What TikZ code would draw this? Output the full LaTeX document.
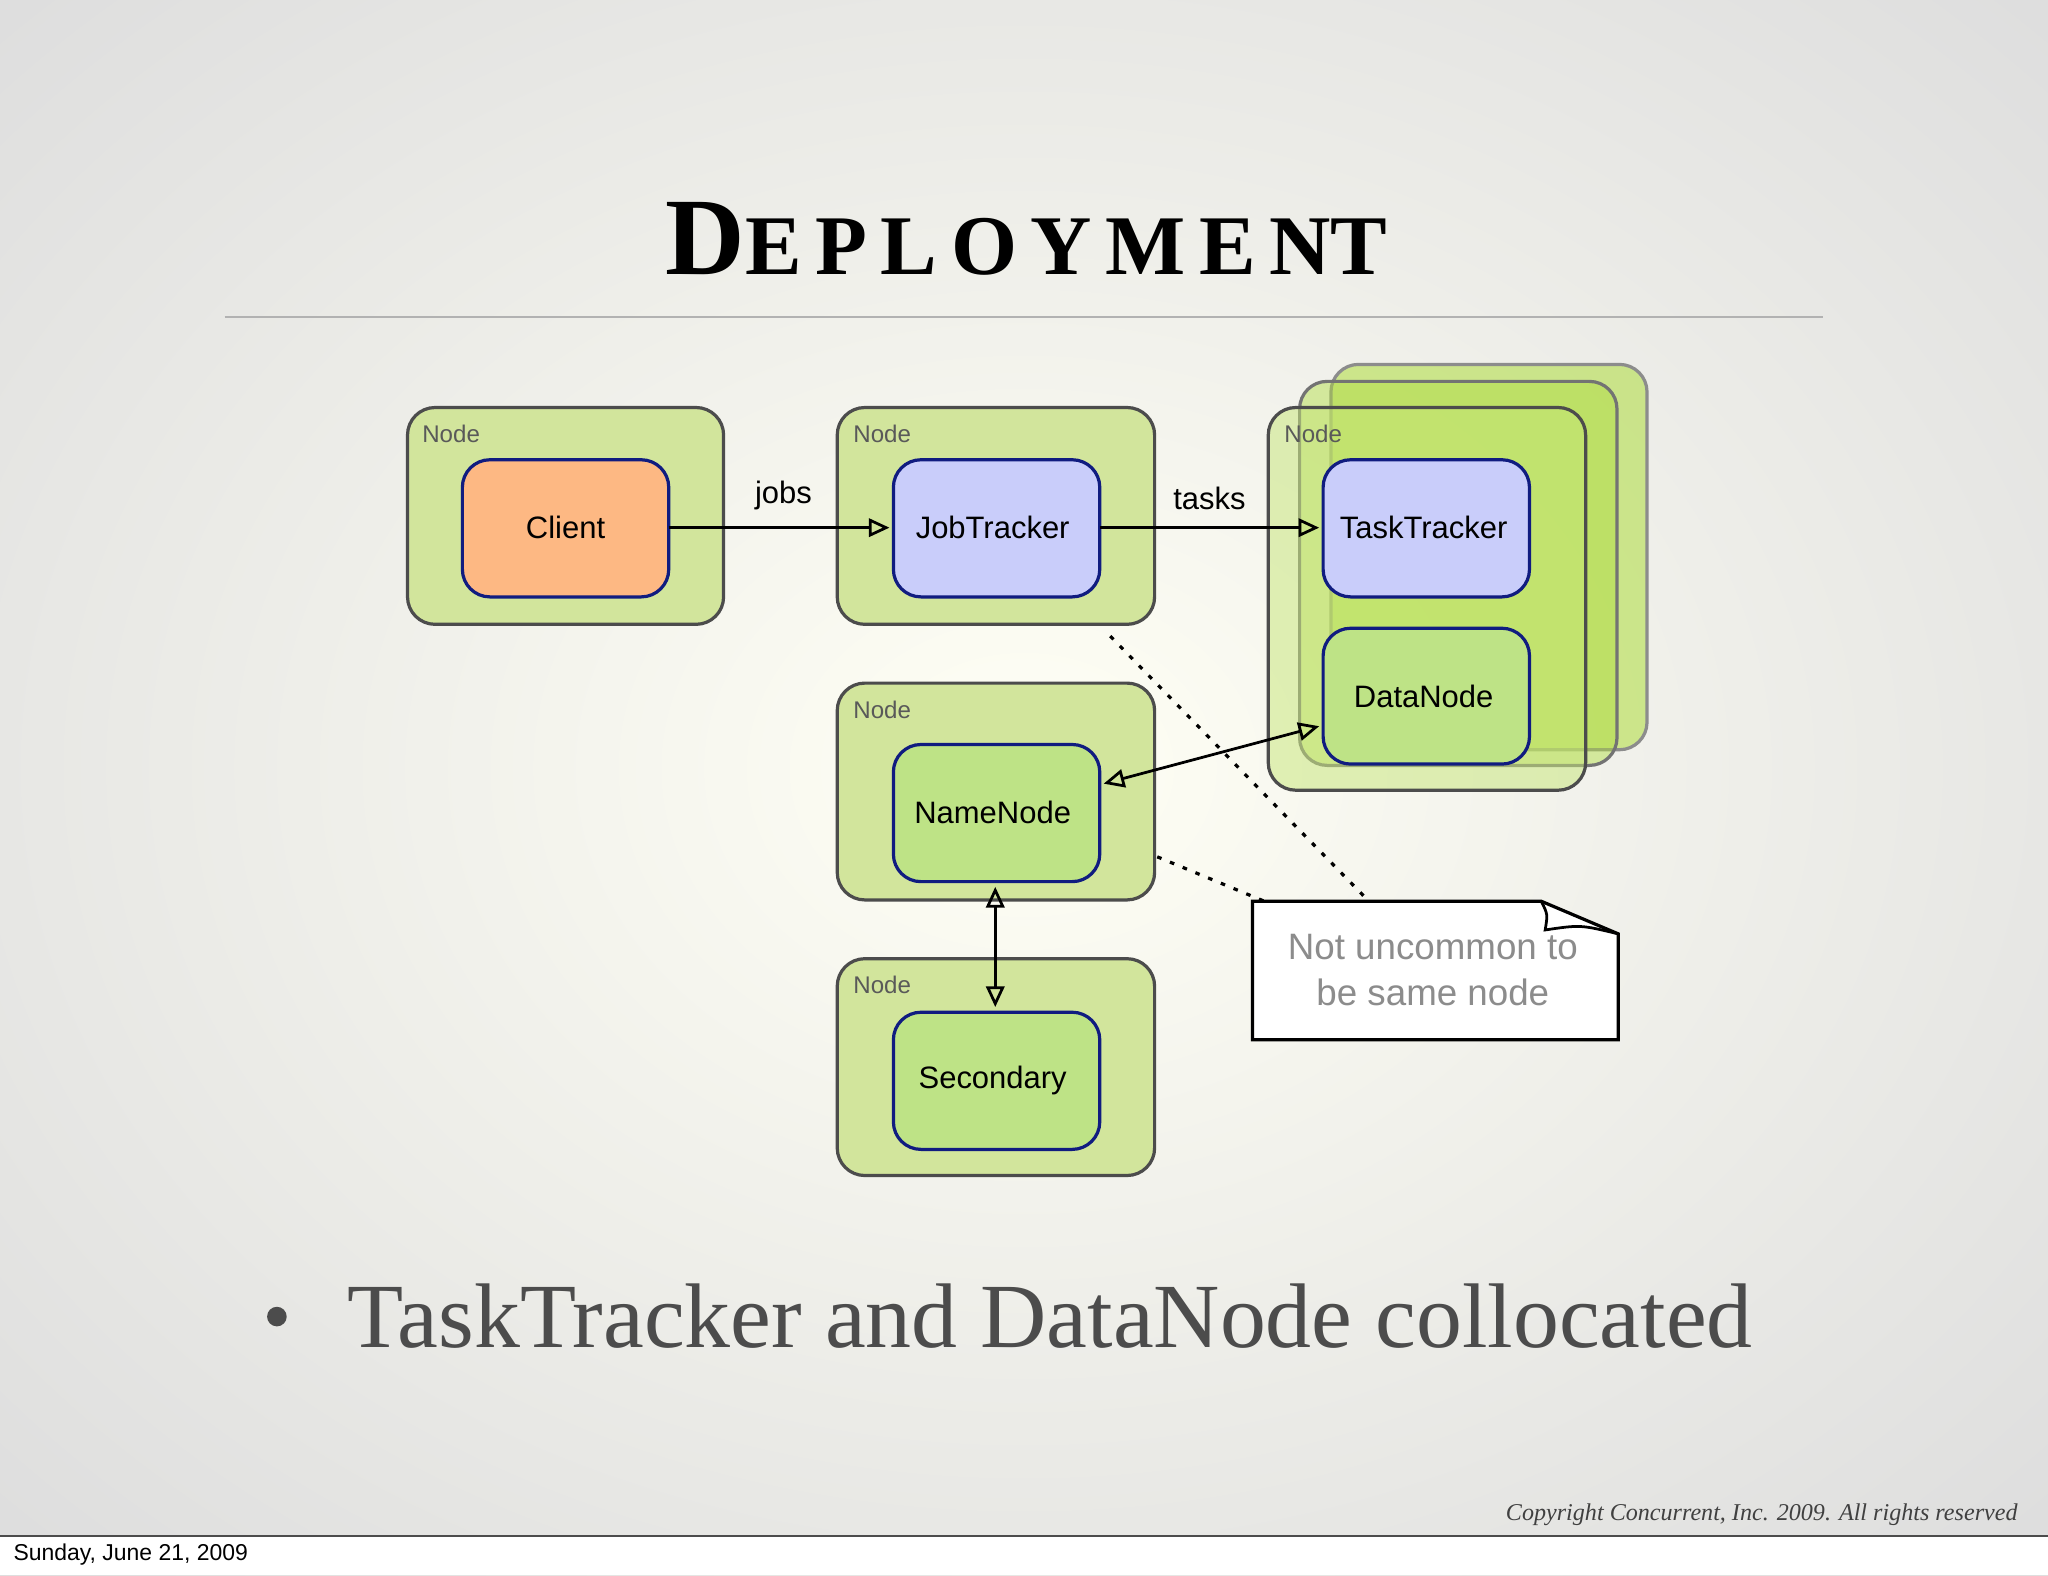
\documentclass[tikz,border=0pt]{standalone}
\usepackage{fontspec}
\setmainfont{Liberation Serif}
\setsansfont{Liberation Sans}
\usetikzlibrary{arrows.meta}
\definecolor{outerg}{HTML}{D2E59C}
\definecolor{innerg}{HTML}{BEE386}
\definecolor{lav}{HTML}{C9CDFA}
\definecolor{orng}{HTML}{FDB883}
\definecolor{navy}{HTML}{101C80}
\definecolor{lime}{HTML}{AEDC3C}
\tikzset{
  outerbox/.style={draw=black!70, line width=1.4pt, rounded corners=12pt},
  innerbox/.style={draw=navy, line width=1.4pt, rounded corners=12pt},
  lbl/.style={font=\sffamily\fontsize{13.5}{16}\selectfont, text=black},
  nodelbl/.style={font=\sffamily\fontsize{10.5}{12}\selectfont, text=black!65, anchor=north west, inner sep=0pt},
  arr/.style={line width=1.2pt, -{Triangle[open,length=9pt,width=8pt]}},
  darr/.style={line width=1.2pt, {Triangle[open,length=9pt,width=8pt]}-{Triangle[open,length=9pt,width=8pt]}},
  dots/.style={line width=1.4pt, dash pattern=on 2pt off 4pt}
}
\begin{document}
\begin{tikzpicture}[x=0.02cm,y=-0.02cm]
\useasboundingbox (0,0) rectangle (1568,1206);
\fill[inner color=white!96!yellow, outer color=black!13] (-300,-250) rectangle (1868,1426);
\fill[white] (0,1176) rectangle (1568,1206);
\draw[black!70, line width=0.6pt] (0,1176) -- (1568,1176);
\node[anchor=west, font=\sffamily\fontsize{10}{12}\selectfont, inner sep=0pt] (date) at (10,1190) {Sunday, June 21, 2009};
% title
\node[font=\bfseries, inner sep=0pt] (title) at (786,183) {\fontsize{48}{50}\selectfont D\fontsize{37}{40}\selectfont\addfontfeatures{LetterSpace=16}EPLOYMEN\addfontfeatures{LetterSpace=0}T};
\draw[black!30, line width=0.8pt] (172,243) -- (1396,243);
% client
\draw[outerbox, fill=outerg] (312,312) rectangle (554,478);
\node[nodelbl] (n1) at (323,325) {Node};
\draw[innerbox, fill=orng] (354,352) rectangle (512,457);
\node[lbl] (client) at (433,404) {Client};
\coordinate (clientE) at (512,404);
% jobtracker
\draw[outerbox, fill=outerg] (641,312) rectangle (884,478);
\node[nodelbl] (n2) at (653,325) {Node};
\draw[innerbox, fill=lav] (684,352) rectangle (842,457);
\node[lbl] (jt) at (760,404) {JobTracker};
\coordinate (jtW) at (681,404);
\coordinate (jtE) at (842,404);
% stack
\draw[outerbox, draw=black!45, fill=lime, fill opacity=0.55] (1019,279) rectangle (1261,574);
\draw[outerbox, draw=black!55, fill=lime, fill opacity=0.45] (995,292) rectangle (1238,586);
\draw[outerbox, fill=lime!70!white, fill opacity=0.5] (971,312) rectangle (1214,605);
\node[nodelbl] (n3) at (983,325) {Node};
\draw[innerbox, fill=lav] (1013,352) rectangle (1171,457);
\node[lbl] (tt) at (1090,404) {TaskTracker};
\coordinate (ttW) at (1010,404);
\draw[innerbox, fill=innerg] (1013,481) rectangle (1171,585);
\node[lbl] (dn) at (1090,533) {DataNode};
\coordinate (dnW) at (1010,556);
% namenode
\draw[outerbox, fill=outerg] (641,523) rectangle (884,689);
\node[nodelbl] (n4) at (653,536) {Node};
\draw[innerbox, fill=innerg] (684,570) rectangle (842,675);
\node[lbl] (nn) at (760,622) {NameNode};
\coordinate (nnE) at (845,600);
\coordinate (nnS) at (762,679);
% secondary
\draw[outerbox, fill=outerg] (641,734) rectangle (884,900);
\node[nodelbl] (n5) at (653,747) {Node};
\draw[innerbox, fill=innerg] (684,775) rectangle (842,880);
\node[lbl] (sec) at (760,827) {Secondary};
\coordinate (secN) at (762,771);
% arrows
\draw[arr] (clientE) -- node[lbl, above=4pt, pos=0.52] (jobs) {jobs} (jtW);
\draw[arr] (jtE) -- node[lbl, above=4pt, pos=0.5] (tasks) {tasks} (ttW);
\draw[darr] (nnE) -- (dnW);
\draw[darr] (nnS) -- (secN);
% note
\coordinate (jtc) at (850,487);
\coordinate (nnc) at (886,656);
\coordinate (nt1) at (1048,690);
\coordinate (nt2) at (968,690);
\draw[dots] (jtc) -- (nt1);
\draw[dots] (nnc) -- (nt2);
\draw[fill=white, line width=1.4pt] (959,690) -- (1180,690) -- (1239,715) -- (1239,796) -- (959,796) -- cycle;
\draw[line width=1.2pt] (1180,690) .. controls (1185,700) .. (1183,712) .. controls (1210,708) .. (1239,715);
\node[align=center, font=\sffamily\fontsize{16}{20}\selectfont, text=black!45] (note) at (1097,743) {Not uncommon to\\be same node};
% bullet
\fill[black!70] (212,1008) circle (7.5);
\node[anchor=west, inner sep=0pt, font=\fontsize{40}{46}\selectfont, text=black!70] (bul) at (266,1008) {TaskTracker and DataNode collocated};
\node[anchor=east, inner sep=0pt, font=\itshape\fontsize{10.5}{12}\selectfont, text=black!75] (copy) at (1545,1160) {Copyright Concurrent, Inc. 2009. All rights reserved};
\end{tikzpicture}
\end{document}
